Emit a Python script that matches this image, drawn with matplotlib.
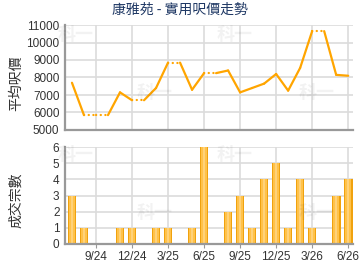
import matplotlib
matplotlib.use("Agg")
import matplotlib.pyplot as plt
import numpy as np

months = ["7/24","8/24","9/24","10/24","11/24","12/24","1/25","2/25","3/25","4/25","5/25","6/25",
          "7/25","8/25","9/25","10/25","11/25","12/25","1/26","2/26","3/26","4/26","5/26","6/26"]
counts = [3,1,0,0,1,1,0,1,1,0,1,6,0,2,3,1,4,5,1,4,1,0,3,4]
prices = [7700,5850,None,None,7150,6700,None,7400,8850,None,7300,8250,
          None,8400,7150,7400,7650,8200,7250,8550,10650,None,8150,8100]
tick_labels = ["9/24","12/24","3/25","6/25","9/25","12/25","3/26","6/26"]
tick_pos = [months.index(t) for t in tick_labels]

plt.rcParams['font.family'] = ['Liberation Sans', 'Noto Sans CJK TC', 'DejaVu Sans']
cjk = ['Noto Sans CJK TC', 'DejaVu Sans']

fig = plt.figure(figsize=(3.6, 2.7), dpi=100)
ax1 = fig.add_axes([65/360, 1-130/270, 288/360, 105/270])
ax2 = fig.add_axes([65/360, 1-244/270, 288/360, 97/270])

x = np.arange(len(months))
xlim = (-0.58, 23.4)
grid_c = '#DCDCDC'
spine_c = '#999999'
orange = '#FFA500'

# carry forward prices
filled = []
last = None
for p in prices:
    if p is not None:
        last = p
    filled.append(last)

for i in range(len(x) - 1):
    if counts[i + 1] == 0:
        ax1.plot([x[i], x[i+1]], [filled[i], filled[i+1]], color=orange, lw=1.6,
                 linestyle=(0, (0.1, 2.0)), dash_capstyle='round', zorder=3)
    else:
        ax1.plot([x[i], x[i+1]], [filled[i], filled[i+1]], color=orange, lw=1.6,
                 solid_capstyle='round', solid_joinstyle='round', zorder=3)

for ax in (ax1, ax2):
    ax.set_xlim(*xlim)
    ax.set_xticks(tick_pos)
    for s in ('top', 'right'):
        ax.spines[s].set_visible(False)
    for s in ('left', 'bottom'):
        ax.spines[s].set_color(spine_c)
        ax.spines[s].set_linewidth(1.6)
    ax.grid(True, color=grid_c, lw=1.2)
    ax.set_axisbelow(True)
    ax.tick_params(axis='y', length=0, pad=4, labelsize=8.5, colors='#333333')
    ax.tick_params(axis='x', length=3, color=spine_c, labelsize=8.5, colors='#333333')

ax1.set_ylim(5000, 11000)
ax1.set_yticks(range(5000, 11001, 1000))
ax1.tick_params(axis='x', labelbottom=False, length=0)

ax2.set_ylim(0, 6)
ax2.set_yticks(range(0, 7))
ax2.set_xticklabels(tick_labels)
ax2.tick_params(axis='x', pad=2)

ax2.bar(x, counts, width=0.72, color='#F0A20E', zorder=2)
ax2.bar(x, counts, width=0.46, color='#FFC24A', zorder=2)
ax2.bar(x, counts, width=0.2, color='#FFD27A', zorder=2)

# watermarks
for (wx, wy) in [(76, 35), (235, 35), (155, 92), (317, 92), (76, 155), (235, 155), (155, 213), (317, 213)]:
    fig.text(wx/360, 1-wy/270, "科一", fontsize=13, color='#000000', alpha=0.05,
             ha='center', va='center', family=cjk, fontweight='bold')

fig.text(0.5, 1-10/270, "康雅苑 - 實用呎價走勢", ha='center', va='center', fontsize=10,
         color='#1F3864', family=cjk)
fig.text(16/360, 1-83/270, "平均呎價", rotation=90, ha='center', va='center', fontsize=10,
         color='#333333', family=cjk)
fig.text(16/360, 1-200/270, "成交宗數", rotation=90, ha='center', va='center', fontsize=10,
         color='#333333', family=cjk)

fig.savefig("out.png", dpi=100)
